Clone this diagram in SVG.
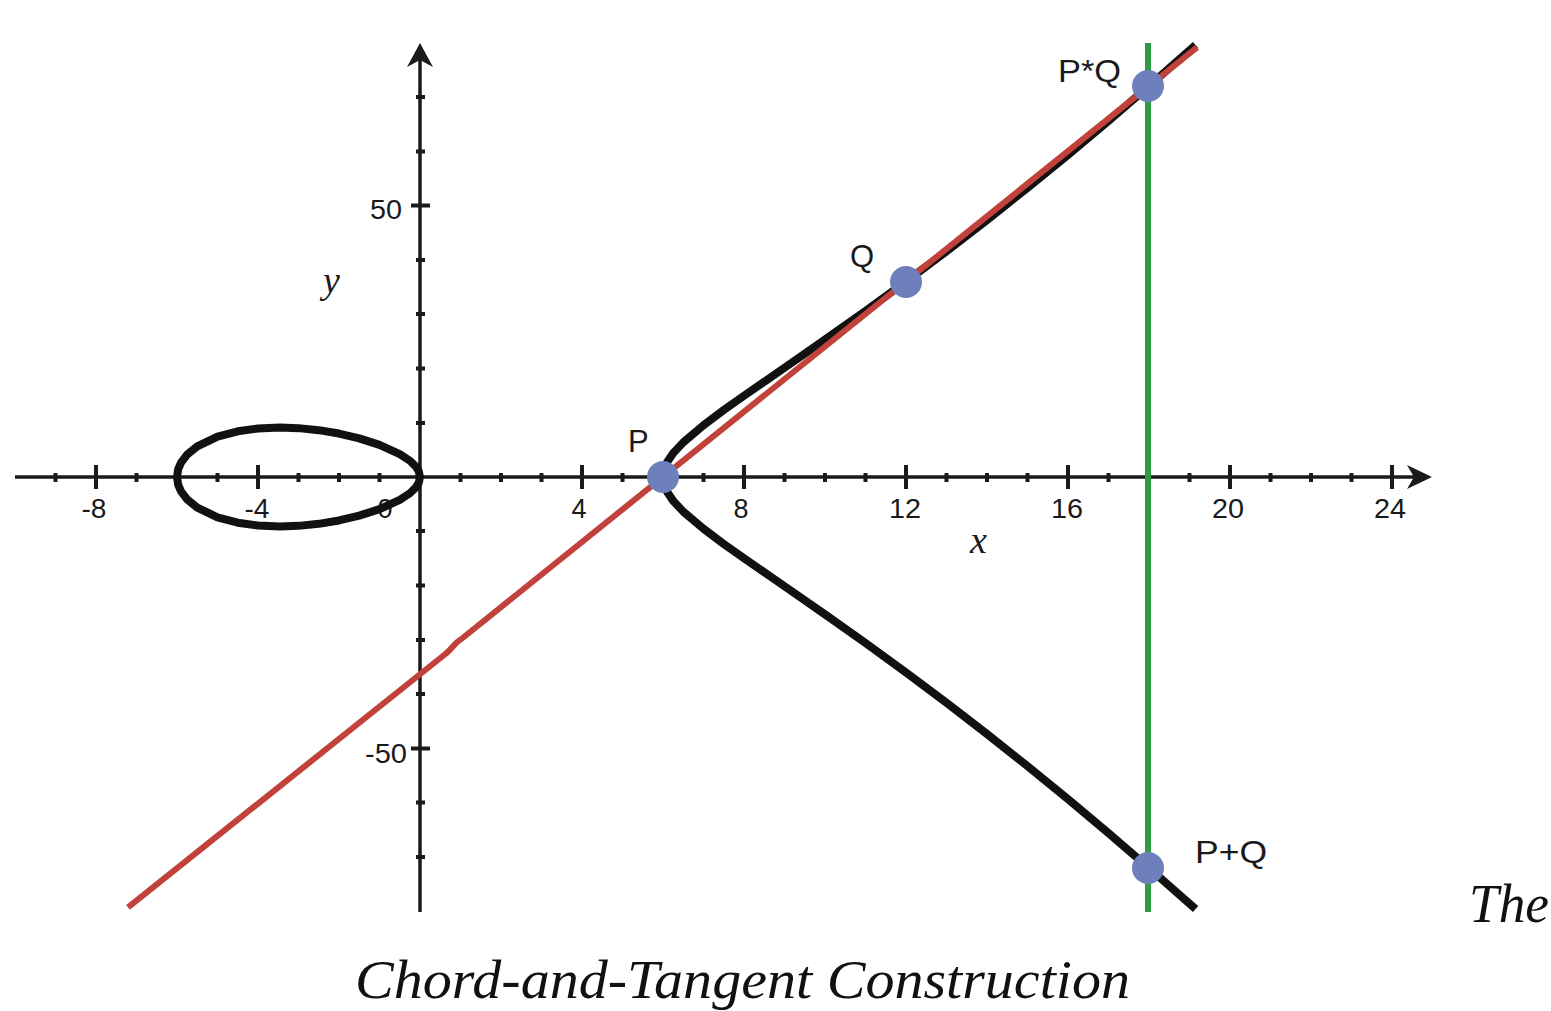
<svg xmlns="http://www.w3.org/2000/svg" width="1551" height="1011" viewBox="0 0 1551 1011">
<style>
.ax{stroke:#1a1a1a;stroke-width:3.5;fill:none}
.tk{stroke:#1a1a1a;stroke-width:4;fill:none}
.curve{stroke:#111;stroke-width:8;fill:none;stroke-linejoin:round;stroke-linecap:butt}
.red{stroke:#c1423b;stroke-width:6;fill:none;stroke-linejoin:round}
.green{stroke:#2f9b45;stroke-width:6;fill:none}
.pt{fill:#6e80bb}
.num{font-family:"Liberation Sans",Arial,sans-serif;font-size:27px;fill:#1a1a1a;text-anchor:middle}
.lbl{font-family:"Liberation Sans",Arial,sans-serif;font-size:31px;fill:#1a1a1a}
.var{font-family:"Liberation Serif","Times New Roman",serif;font-style:italic;font-size:38px;fill:#1a1a1a}
.cap{font-family:"Liberation Serif","Times New Roman",serif;font-style:italic;font-size:54px;fill:#111}
</style>
<rect width="1551" height="1011" fill="#fff"/>
<g id="axes">
  <line class="ax" x1="15" y1="477" x2="1420" y2="477"/>
  <polygon points="1432,477 1407,465 1414,477 1407,489" fill="#1a1a1a"/>
  <line class="ax" x1="420" y1="55" x2="420" y2="912"/>
  <polygon points="420,43 407,67 420,60 433,67" fill="#1a1a1a"/>
  <g class="tk">
    <path d="M55.5,473V482M136.5,473V482M177,473V482M217.5,473V482M298.5,473V482M339,473V482M379.5,473V482M460.5,473V482M501,473V482M541.5,473V482M622.5,473V482M663,473V482M703.5,473V482M784.5,473V482M825,473V482M865.5,473V482M946.5,473V482M987,473V482M1027.5,473V482M1108.5,473V482M1149,473V482M1189.5,473V482M1270.5,473V482M1311,473V482M1351.5,473V482"/>
    <path d="M96,465V489M258,465V489M582,465V489M744,465V489M906,465V489M1068,465V489M1230,465V489M1392,465V489"/>
    <path d="M416,97H425M416,151.5H425M416,260H425M416,314H425M416,368.5H425M416,423H425M416,531H425M416,585.5H425M416,640H425M416,694H425M416,802.5H425M416,857H425"/>
    <path d="M411,205.5H430M411,748.5H430"/>
  </g>
  <g id="tick-labels" class="num">
    <text x="94" y="518" textLength="25" lengthAdjust="spacingAndGlyphs">-8</text>
    <text x="257" y="518" textLength="25" lengthAdjust="spacingAndGlyphs">-4</text>
    <text x="385" y="518">0</text>
    <text x="579" y="518">4</text>
    <text x="741" y="518">8</text>
    <text x="905" y="518" textLength="32" lengthAdjust="spacingAndGlyphs">12</text>
    <text x="1067" y="518" textLength="32" lengthAdjust="spacingAndGlyphs">16</text>
    <text x="1228" y="518" textLength="32" lengthAdjust="spacingAndGlyphs">20</text>
    <text x="1390" y="518" textLength="32" lengthAdjust="spacingAndGlyphs">24</text>
    <text x="386" y="219" textLength="32" lengthAdjust="spacingAndGlyphs">50</text>
    <text x="386" y="763" textLength="42" lengthAdjust="spacingAndGlyphs">-50</text>
  </g>
  <text class="var" x="323" y="293">y</text>
  <text class="var" x="970" y="553">x</text>
</g>
<g id="curve">
  <path class="curve" d="M177,477 L178.2,469.06 181.05,462.61 187.1,454.68 197.25,446.46 217.5,436.73 237.75,431.29 258,428.43 279.9,427.49 298.5,428.13 318.75,430.17 339,433.56 359.25,438.37 379.5,444.88 399.75,454.04 409.9,460.73 415.95,466.7 418.8,471.36 420,477 418.8,482.64 415.95,487.3 409.9,493.27 399.75,499.96 379.5,509.12 359.25,515.63 339,520.44 318.75,523.83 298.5,525.87 279.9,526.51 258,525.57 237.75,522.71 217.5,517.27 197.25,507.54 187.1,499.32 181.05,491.39 178.2,484.94 Z"/>
  <path class="curve" d="M1195.6,44.9 L1149,86.04 1108.5,120.89 1068,154.84 1027.5,187.88 987,220 946.5,251.22 906,281.52 865.5,310.96 825,339.63 784.5,367.72 744,395.73 723.75,410.08 703.5,425.2 683.25,442.39 673.1,453.24 667.05,462.25 664.2,469 663,477 664.2,485 667.05,491.75 673.1,500.76 683.25,511.61 703.5,528.8 723.75,543.92 744,558.27 784.5,586.28 825,614.37 865.5,643.04 906,672.48 946.5,702.78 987,734 1027.5,766.12 1068,799.16 1108.5,833.11 1149,867.96 1195.6,909.1"/>
</g>
<g id="connectors">
  <line class="green" x1="1148" y1="43" x2="1148" y2="912"/>
  <path class="red" d="M128,907.4 L446,653.5 C452,649 454,643 462,638.5 L1197,47.4"/>
</g>
<g id="P">
  <circle class="pt" cx="663" cy="477" r="16"/>
  <text class="lbl" x="628" y="452">P</text>
</g>
<g id="Q">
  <circle class="pt" cx="906" cy="282" r="16"/>
  <text class="lbl" x="850" y="267">Q</text>
</g>
<g id="PstarQ">
  <circle class="pt" cx="1148" cy="86" r="16"/>
  <text class="lbl" x="1058" y="82" textLength="63" lengthAdjust="spacingAndGlyphs">P*Q</text>
</g>
<g id="PplusQ">
  <circle class="pt" cx="1148" cy="868" r="16"/>
  <text class="lbl" x="1195" y="863" textLength="72" lengthAdjust="spacingAndGlyphs">P+Q</text>
</g>
<g id="caption">
  <text class="cap" x="1469" y="922" textLength="80" lengthAdjust="spacingAndGlyphs">The</text>
  <text class="cap" x="355" y="998" textLength="775" lengthAdjust="spacingAndGlyphs">Chord-and-Tangent Construction</text>
</g>
</svg>
